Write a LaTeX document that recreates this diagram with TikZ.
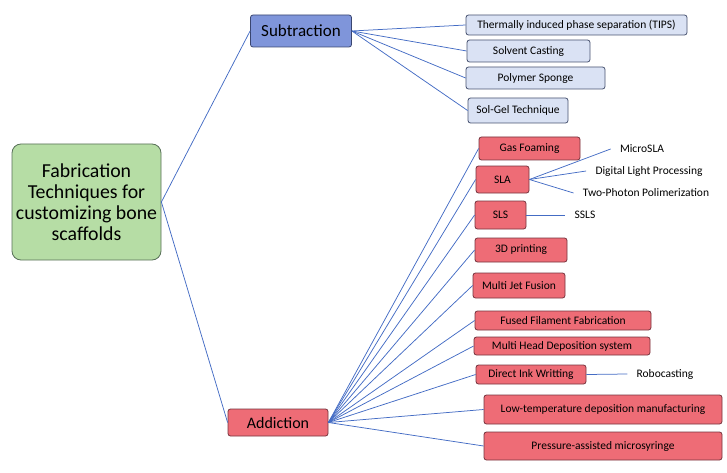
\documentclass[tikz,border=0pt]{standalone}
\usepackage{fontspec}
\setmainfont{Carlito}
\definecolor{rootfill}{RGB}{182,221,165}
\definecolor{rootline}{RGB}{88,112,88}
\definecolor{subfill}{RGB}{127,149,218}
\definecolor{subline}{RGB}{58,70,112}
\definecolor{leaffill}{RGB}{218,226,244}
\definecolor{leafline}{RGB}{72,82,112}
\definecolor{addfill}{RGB}{238,108,118}
\definecolor{addline}{RGB}{118,52,62}
\definecolor{link}{RGB}{68,108,196}
\begin{document}
\begin{tikzpicture}[x=1pt,y=-1pt,
  box/.style={draw,line width=0.8pt,rounded corners=2.5pt,inner sep=0pt,align=center},
  rootbox/.style={box,draw=rootline,fill=rootfill,rounded corners=9pt,font=\fontsize{19.8}{21}\selectfont},
  subbox/.style={box,draw=subline,fill=subfill,font=\fontsize{17}{19}\selectfont},
  addbox/.style={box,draw=addline,fill=addfill,font=\fontsize{16}{19}\selectfont},
  leafbox/.style={box,draw=leafline,fill=leaffill,font=\fontsize{11.5}{13}\selectfont},
  redbox/.style={box,draw=addline,fill=addfill,font=\fontsize{11.5}{13}\selectfont},
  tag/.style={inner xsep=9pt,inner ysep=0pt,font=\fontsize{11.5}{13}\selectfont},
  every path/.style={line width=0.75pt}]
  \useasboundingbox (0,0) rectangle (727,473);

  \node[rootbox,minimum width=149pt,minimum height=116pt] (root) at (86.5,202)
    {Fabrication\\Techniques for\\customizing bone\\scaffolds};
  \node[subbox,minimum width=101pt,minimum height=32pt] (sub) at (301,31) {Subtraction};
  \node[addbox,minimum width=100pt,minimum height=27pt] (add) at (278,422.5) {Addiction};

  \node[leafbox,minimum width=221pt,minimum height=20pt] (tips) at (576.5,25) {Thermally induced phase separation (TIPS)};
  \node[leafbox,minimum width=123pt,minimum height=22pt] (solv) at (528.5,51) {Solvent Casting};
  \node[leafbox,minimum width=139pt,minimum height=22pt] (poly) at (535.5,78) {Polymer Sponge};
  \node[leafbox,minimum width=100pt,minimum height=25pt] (solgel) at (518,110.5) {Sol-Gel Technique};

  \node[redbox,minimum width=101pt,minimum height=23pt] (gas) at (529.5,148.5) {Gas Foaming};
  \node[redbox,minimum width=53pt,minimum height=27pt] (sla) at (502.5,179.5) {SLA};
  \node[redbox,minimum width=51pt,minimum height=28pt] (sls) at (500.5,215) {SLS};
  \node[redbox,minimum width=92pt,minimum height=24pt] (print) at (521,250) {3D printing};
  \node[redbox,minimum width=92pt,minimum height=25pt] (mjf) at (519,285.5) {Multi Jet Fusion};
  \node[redbox,minimum width=176pt,minimum height=19pt] (fff) at (563,320.5) {Fused Filament Fabrication};
  \node[redbox,minimum width=176pt,minimum height=18pt] (mhd) at (562,346) {Multi Head Deposition system};
  \node[redbox,minimum width=110pt,minimum height=19pt] (diw) at (531,374.5) {Direct Ink Writting};
  \node[redbox,minimum width=238pt,minimum height=29pt] (ltdm) at (603,409.5) {Low-temperature deposition manufacturing};
  \node[redbox,minimum width=238pt,minimum height=28pt] (pam) at (603,446) {Pressure-assisted microsyringe};

  \node[tag] (msla) at (642,149) {MicroSLA};
  \node[tag] (dlp) at (649,171) {Digital Light Processing};
  \node[tag] (tpp) at (646,193) {Two-Photon Polimerization};
  \node[tag] (ssls) at (585,215) {SSLS};
  \node[tag] (robo) at (665,374) {Robocasting};

  % main branches
  \draw[link] (root.east) -- (sub.west);
  \draw[link] (root.east) -- (add.west);
  \foreach \n in {tips,solv,poly,solgel}
    \draw[link] (sub.east) -- (\n.west);
  \foreach \n in {gas,sla,sls,print,mjf,fff,mhd,diw,ltdm,pam}
    \draw[link] (add.east) -- (\n.west);
  % sub techniques
  \foreach \n in {msla,dlp,tpp}
    \draw[link] (sla.east) -- (\n.west);
  \draw[link] (sls.east) -- (ssls.west);
  \draw[link] (diw.east) -- (robo.west);
\end{tikzpicture}
\end{document}
